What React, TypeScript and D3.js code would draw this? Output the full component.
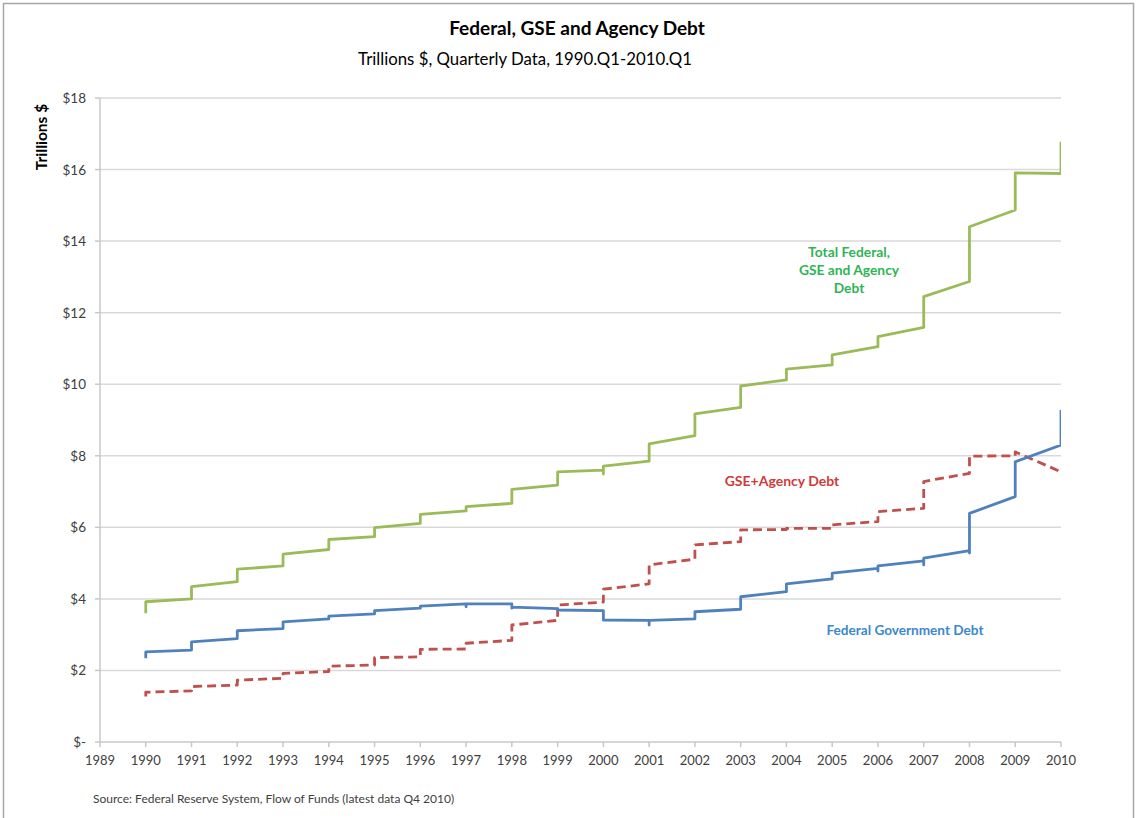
import React, { useEffect, useRef } from "react";
import * as d3 from "d3";

// Years on the x axis; each year carries the readings plotted at that x (Excel-style quarterly stacking)
const years = [1990, 1991, 1992, 1993, 1994, 1995, 1996, 1997, 1998, 1999, 2000, 2001, 2002, 2003, 2004, 2005, 2006, 2007, 2008, 2009, 2010];

const totalDebt: number[][] = [
  [3.6, 3.92], [4.0, 4.34], [4.48, 4.83], [4.92, 5.25], [5.38, 5.66], [5.74, 5.99], [6.11, 6.36],
  [6.46, 6.58], [6.67, 7.06], [7.18, 7.55], [7.6, 7.49, 7.71], [7.85, 8.33], [8.56, 9.17], [9.35, 9.95],
  [10.12, 10.42], [10.54, 10.82], [11.05, 11.33], [11.59, 12.45], [12.87, 14.4], [14.87, 15.91], [15.89, 16.78],
];

const gseAgencyDebt: number[][] = [
  [1.27, 1.39], [1.43, 1.55], [1.59, 1.73], [1.78, 1.92], [1.97, 2.12], [2.15, 2.36], [2.38, 2.59],
  [2.6, 2.76], [2.84, 3.27], [3.4, 3.83], [3.91, 4.27], [4.42, 4.95], [5.11, 5.51], [5.6, 5.93],
  [5.94, 5.97], [5.97, 6.07], [6.16, 6.44], [6.53, 7.28], [7.51, 7.99], [8.0, 8.11], [7.55, 7.5],
];

const federalDebt: number[][] = [
  [2.34, 2.52], [2.57, 2.8], [2.89, 3.11], [3.17, 3.36], [3.44, 3.52], [3.58, 3.67], [3.74, 3.8],
  [3.86, 3.78, 3.86], [3.86, 3.74, 3.77], [3.73, 3.69], [3.67, 3.41], [3.4, 3.27, 3.4], [3.44, 3.64], [3.71, 4.06],
  [4.2, 4.42], [4.56, 4.72], [4.85, 4.78, 4.92], [5.06, 4.95, 5.14], [5.35, 5.28, 6.39], [6.86, 7.83], [8.3, 9.28],
];

const yTicks = [0, 2, 4, 6, 8, 10, 12, 14, 16, 18];
const xTicks = d3.range(1989, 2011);

const title = "Federal, GSE and Agency Debt";
const subtitle = "Trillions $, Quarterly Data, 1990.Q1-2010.Q1";
const yTitle = "Trillions $";
const source = "Source: Federal Reserve System, Flow of Funds (latest data Q4 2010)";
const totalLabel = ["Total Federal,", "GSE and Agency", "Debt"];
const gseLabel = "GSE+Agency Debt";
const fedLabel = "Federal Government Debt";

const W = 1138;
const H = 818;
const FONT = "Lato, 'Open Sans', sans-serif";

export default function App() {
  const ref = useRef<SVGSVGElement | null>(null);

  useEffect(() => {
    const svg = d3.select(ref.current);
    svg.selectAll("*").remove();

    const x = d3.scaleLinear().domain([1989, 2010]).range([100, 1061]);
    const y = d3.scaleLinear().domain([0, 18]).range([742, 98]);

    svg.append("rect").attr("width", W).attr("height", H).attr("fill", "#fff");
    svg.append("rect").attr("x", 3.5).attr("y", 3.5).attr("width", 1130).attr("height", 830)
      .attr("fill", "none").attr("stroke", "#a6a6a6").attr("stroke-width", 1.5);

    // gridlines
    svg.append("g").selectAll("line").data(yTicks.filter((t) => t > 0)).join("line")
      .attr("x1", x(1989)).attr("x2", x(2010))
      .attr("y1", (d) => y(d)).attr("y2", (d) => y(d))
      .attr("stroke", "#d9d9d9").attr("stroke-width", 1.5);

    // y axis
    const yAxis = svg.append("g");
    yAxis.append("line").attr("x1", x(1989)).attr("x2", x(1989)).attr("y1", y(18)).attr("y2", y(0))
      .attr("stroke", "#c8c8c8").attr("stroke-width", 1.5);
    yAxis.selectAll("line.t").data(yTicks).join("line").attr("class", "t")
      .attr("x1", x(1989) - 5).attr("x2", x(1989)).attr("y1", (d) => y(d)).attr("y2", (d) => y(d))
      .attr("stroke", "#c8c8c8").attr("stroke-width", 1.5);
    yAxis.selectAll("text").data(yTicks).join("text")
      .attr("x", 86).attr("y", (d) => y(d) + 5)
      .attr("text-anchor", "end").attr("font-family", FONT).attr("font-size", 13.5).attr("fill", "#404040")
      .text((d) => (d === 0 ? "$-" : `$${d}`));

    // x axis
    const xAxis = svg.append("g");
    xAxis.append("line").attr("x1", x(1989)).attr("x2", x(2010)).attr("y1", y(0)).attr("y2", y(0))
      .attr("stroke", "#c8c8c8").attr("stroke-width", 1.5);
    xAxis.selectAll("line.t").data(xTicks).join("line").attr("class", "t")
      .attr("x1", (d) => x(d)).attr("x2", (d) => x(d)).attr("y1", y(0)).attr("y2", y(0) + 5)
      .attr("stroke", "#c8c8c8").attr("stroke-width", 1.5);
    xAxis.selectAll("text").data(xTicks).join("text")
      .attr("x", (d) => x(d)).attr("y", 765)
      .attr("text-anchor", "middle").attr("font-family", FONT).attr("font-size", 13).attr("fill", "#404040")
      .text((d) => String(d));

    // clip
    svg.append("clipPath").attr("id", "plotclip").append("rect")
      .attr("x", x(1989)).attr("y", y(18)).attr("width", x(2010) - x(1989)).attr("height", y(0) - y(18));

    const toPts = (arr: number[][]) => arr.flatMap((vals, i) => vals.map((v) => [years[i], v] as [number, number]));
    const line = d3.line<[number, number]>().x((d) => x(d[0])).y((d) => y(d[1])).curve(d3.curveLinear);

    const lines = svg.append("g").attr("clip-path", "url(#plotclip)");
    lines.append("path").attr("d", line(toPts(gseAgencyDebt)) || "")
      .attr("fill", "none").attr("stroke", "#c0504d").attr("stroke-width", 2.8)
      .attr("stroke-dasharray", "9,5").attr("stroke-linejoin", "round");
    lines.append("path").attr("d", line(toPts(federalDebt)) || "")
      .attr("fill", "none").attr("stroke", "#4f81bd").attr("stroke-width", 2.8).attr("stroke-linejoin", "round");
    lines.append("path").attr("d", line(toPts(totalDebt)) || "")
      .attr("fill", "none").attr("stroke", "#9bbb59").attr("stroke-width", 2.8).attr("stroke-linejoin", "round");

    // titles
    svg.append("text").attr("x", 577).attr("y", 35).attr("text-anchor", "middle")
      .attr("font-family", FONT).attr("font-weight", "bold").attr("font-size", 19).attr("fill", "#000").text(title);
    svg.append("text").attr("x", 525).attr("y", 65).attr("text-anchor", "middle")
      .attr("font-family", FONT).attr("font-size", 16.8).attr("fill", "#000").text(subtitle);
    svg.append("text").attr("transform", "translate(47,137) rotate(-90)").attr("text-anchor", "middle")
      .attr("font-family", FONT).attr("font-weight", "bold").attr("font-size", 15.5).attr("fill", "#000").text(yTitle);
    svg.append("text").attr("x", 93).attr("y", 803)
      .attr("font-family", FONT).attr("font-size", 12).attr("fill", "#404040").text(source);

    // series labels
    const tl = svg.append("text").attr("text-anchor", "middle").attr("font-family", FONT)
      .attr("font-weight", "bold").attr("font-size", 13.8).attr("fill", "#2fb455");
    totalLabel.forEach((s, i) => tl.append("tspan").attr("x", 849).attr("y", 257 + i * 18).text(s));
    svg.append("text").attr("x", 782).attr("y", 486).attr("text-anchor", "middle").attr("font-family", FONT)
      .attr("font-weight", "bold").attr("font-size", 14).attr("fill", "#d03a3a").text(gseLabel);
    svg.append("text").attr("x", 905).attr("y", 635).attr("text-anchor", "middle").attr("font-family", FONT)
      .attr("font-weight", "bold").attr("font-size", 13.6).attr("fill", "#3a88d0").text(fedLabel);
  }, []);

  return (
    <svg ref={ref} width={W} height={H} style={{ position: "absolute", left: 0, top: 0, display: "block" }} />
  );
}
